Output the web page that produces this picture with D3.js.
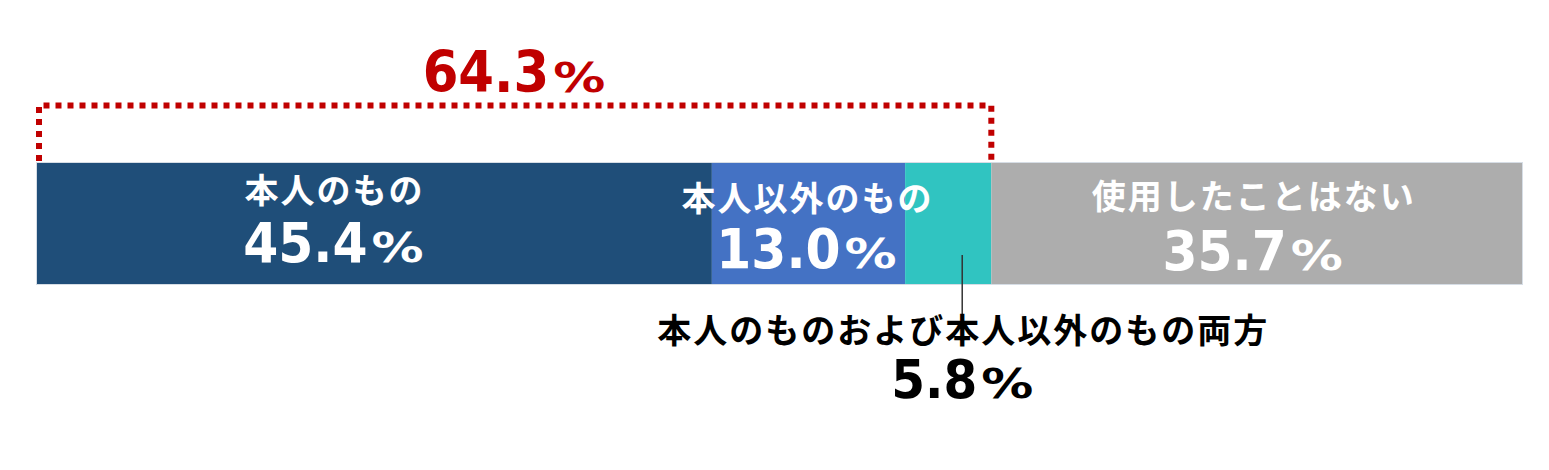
<!DOCTYPE html>
<html><head><meta charset="utf-8">
<script src="https://cdn.jsdelivr.net/npm/d3@7"></script>
<style>
html,body{margin:0;padding:0;background:#fff;}
svg{display:block;}
.jp{font-family:"Noto Sans CJK JP","Noto Sans CJK SC",sans-serif;font-weight:bold;}
.num{font-family:"DejaVu Sans Condensed","DejaVu Sans",sans-serif;font-stretch:condensed;font-weight:bold;}
.pct{font-family:"DejaVu Sans",sans-serif;font-stretch:normal;font-weight:bold;}
</style>
</head><body>
<script>
// Data
const categories = ["本人のもの", "本人以外のもの", "本人のものおよび本人以外のもの両方", "使用したことはない"];
const values = [45.4, 13.0, 5.8, 35.7];
const colors = ["#1F4E79", "#4472C4", "#30C4C1", "#ADADAD"];
const totalLabel = "64.3";
const bracketCount = 3; // first three categories are "used"

const W = 1549, H = 470;
const svg = d3.select("body").append("svg").attr("width", W).attr("height", H);

const total = d3.sum(values);
const x = d3.scaleLinear().domain([0, total]).range([37, 1522]);
const y = d3.scaleBand().domain(["all"]).range([163, 284]).padding(0);

let acc = 0;
const segs = values.map((v, i) => { const s = {cat: categories[i], v, x0: acc, x1: acc + v, color: colors[i], i}; acc += v; return s; });

// bars
svg.append("g").selectAll("rect").data(segs).join("rect")
  .attr("x", d => x(d.x0)).attr("width", d => x(d.x1) - x(d.x0))
  .attr("y", y("all")).attr("height", y.bandwidth())
  .attr("fill", d => d.color);
svg.append("rect").attr("x", x(0) - 0.5).attr("y", y("all") - 0.5)
  .attr("width", x(total) - x(0) + 1).attr("height", y.bandwidth() + 1)
  .attr("fill", "none").attr("stroke", "#d6dde5").attr("stroke-width", 1);

// dotted bracket
const usedEnd = d3.sum(values.slice(0, bracketCount));
const bx0 = x(0) + 2, bx1 = x(usedEnd), byTop = 105.5, byBot = 161;
svg.append("path")
  .attr("d", `M${bx0},${byBot} V${byTop} H${bx1} V${byBot}`)
  .attr("fill", "none").attr("stroke", "#C00000").attr("stroke-width", 6)
  .attr("stroke-dasharray", "6 6");

// number + % label, centred at cx
function numLabel(cx, baseline, text, size, pctSize, color) {
  const g = svg.append("g");
  const t = g.append("text").attr("class", "num").attr("font-size", size)
    .attr("x", 0).attr("y", baseline).attr("fill", color).text(text);
  const w = t.node().getComputedTextLength();
  const gap = 4, sx = 1.3;
  const p = g.append("text").attr("class", "pct").attr("font-size", pctSize).attr("fill", color)
    .attr("transform", `translate(${w + gap},${baseline}) scale(${sx},1)`).text("%");
  const pw = p.node().getComputedTextLength() * sx;
  g.attr("transform", `translate(${cx - (w + gap + pw) / 2},0)`);
}

numLabel(514, 92, totalLabel, 57, 40, "#C00000");

// in-bar labels
const inside = [
  {i: 0, dx: -41, ly: 188, ny: 262},
  {i: 1, dx: -2, ly: 196, ny: 268},
  {i: 3, dx: -4, ly: 194, ny: 270}
];
inside.forEach(o => {
  const d = segs[o.i];
  const cx = (x(d.x0) + x(d.x1)) / 2 + o.dx;
  svg.append("text").attr("class", "jp").attr("x", cx + 1).attr("y", o.ly)
    .attr("text-anchor", "middle").attr("dominant-baseline", "central")
    .attr("fill", "#fff").attr("font-size", 34).attr("letter-spacing", 2)
    .text(d.cat);
  numLabel(cx, o.ny, d.v.toFixed(1), 56, 40, "#fff");
});

// callout for teal segment
const teal = segs[2];
const lx = (x(teal.x0) + x(teal.x1)) / 2 + 14;
svg.append("line").attr("x1", lx).attr("x2", lx).attr("y1", 255).attr("y2", 338)
  .attr("stroke", "#333").attr("stroke-width", 1.5);
svg.append("text").attr("class", "jp").attr("x", lx + 1).attr("y", 328)
  .attr("text-anchor", "middle").attr("dominant-baseline", "central")
  .attr("fill", "#000").attr("font-size", 34).attr("letter-spacing", 2)
  .text(teal.cat);
numLabel(lx, 398, teal.v.toFixed(1), 54, 40, "#000");
</script>
</body></html>
